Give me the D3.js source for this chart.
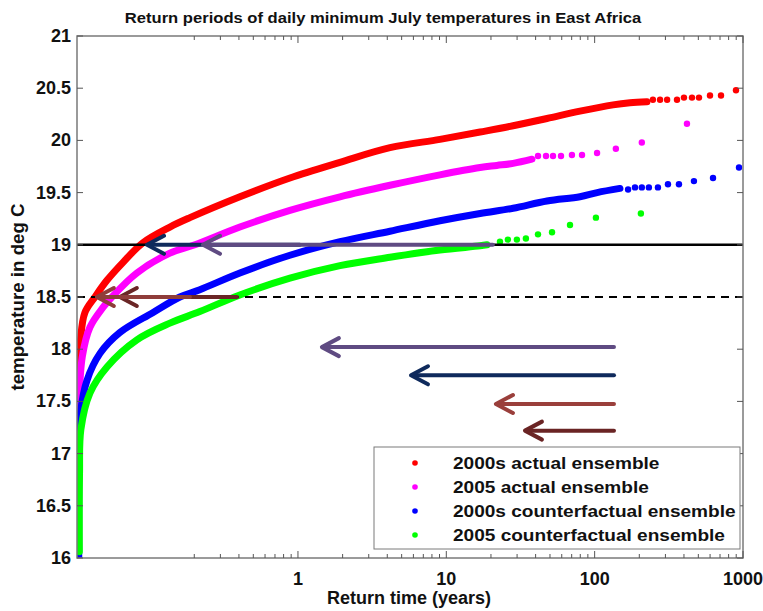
<!DOCTYPE html>
<html>
<head>
<meta charset="utf-8">
<script src="https://cdn.jsdelivr.net/npm/d3@7"></script>
<style>
body { margin: 0; background: #fff; }
text { font-family: "Liberation Sans", Arial, sans-serif; font-weight: bold; fill: #111; }
</style>
</head>
<body>
<div id="chart"></div>
<script>
// return time (years), temperature (deg C)
const red_dense = [[0.0331,17.58],[0.0334,17.77],[0.0342,18.09],[0.0366,18.35],[0.0428,18.50],[0.0516,18.66],[0.066,18.83],[0.0902,19.02],[0.137,19.17],[0.187,19.26],[0.406,19.46],[0.883,19.64],[1.92,19.79],[4.17,19.93],[9.06,20.01],[16.9,20.08],[28.2,20.14],[47.7,20.21],[79.6,20.28],[133,20.34],[173,20.36],[225,20.37]];
const red_tail = [[247,20.39],[276,20.39],[308,20.39],[359,20.39],[400,20.41],[453,20.41],[505,20.41],[599,20.43],[711,20.43],[897,20.48]];

const magenta_dense = [[0.0334,16.97],[0.0335,17.51],[0.0352,17.93],[0.0396,18.21],[0.0485,18.40],[0.0557,18.50],[0.0821,18.73],[0.137,18.92],[0.202,19.00],[0.406,19.17],[0.883,19.33],[1.92,19.46],[4.17,19.57],[9.06,19.67],[16.9,19.74],[21.9,19.76],[28.2,19.78],[37.8,19.82]];
const magenta_tail = [[41.5,19.85],[47.0,19.85],[52.4,19.85],[59.3,19.85],[70.3,19.86],[82.2,19.86],[103.8,19.88],[139,19.92],[208,19.98],[419,20.16]];

const blue_dense = [[0.0333,16.00],[0.0334,16.94],[0.0342,17.39],[0.0378,17.70],[0.0463,17.96],[0.063,18.16],[0.105,18.35],[0.160,18.50],[0.218,18.57],[0.406,18.73],[0.883,18.90],[1.92,19.03],[4.17,19.13],[9.06,19.23],[16.9,19.30],[28.2,19.35],[47.7,19.42],[79.6,19.46],[104,19.50],[148,19.54]];
const blue_tail = [[168,19.53],[187,19.55],[208,19.55],[232,19.55],[267,19.55],[312,19.58],[370,19.58],[467,19.61],[628,19.64],[940,19.74]];

const green_dense = [[0.0336,16.06],[0.0337,16.81],[0.0344,17.23],[0.0396,17.58],[0.0516,17.83],[0.0821,18.09],[0.137,18.25],[0.218,18.36],[0.406,18.52],[0.883,18.68],[1.92,18.80],[4.17,18.88],[9.06,18.95],[16.9,18.99],[18.8,19.00]];
const green_tail = [[23.0,19.03],[26.0,19.05],[29.9,19.05],[34.4,19.06],[41.5,19.10],[51.6,19.12],[68.2,19.19],[102,19.26],[205,19.30]];

const series_names = ["2000s actual ensemble", "2005 actual ensemble", "2000s counterfactual ensemble", "2005 counterfactual ensemble"];
const series_colors = ["#ff0000", "#ff00ff", "#0000ff", "#00ff00"];

const x_major = [1, 10, 100, 1000];
const x_minor = [0.2,0.3,0.4,0.5,0.6,0.7,0.8,0.9,2,3,4,5,6,7,8,9,20,30,40,50,60,70,80,90,200,300,400,500,600,700,800,900];
const y_ticks = [16,16.5,17,17.5,18,18.5,19,19.5,20,20.5,21];

const thresholds = [19, 18.5];
// arrows along threshold lines: [temp, from rt, to rt]
const line_arrows = [[18.5,0.388,0.063],[18.5,0.187,0.0441],[19,1.03,0.096],[19,20.6,0.229]];
const line_arrow_colors = ["#6a2626", "#8f3d3a", "#0f2a5c", "#5f4b82"];
// key arrows at the right
const key_arrows = [[18.02,135,1.45],[17.75,135,5.78],[17.475,135,21.6],[17.22,135,33.9]];
const key_arrow_colors = ["#5f4b82", "#0f2a5c", "#9a3f3b", "#6a2424"];

const W = 763, H = 611;
const margin = { top: 36, right: 20, bottom: 53, left: 77 };
const width = W - margin.left - margin.right;
const height = H - margin.top - margin.bottom;

const svg = d3.select("#chart").append("svg")
  .attr("width", W)
  .attr("height", H);

let x_scale = d3.scaleLog()
  .domain([0.0324, 1000])
  .range([0, width]);
let y_scale = d3.scaleLinear()
  .domain([16, 21])
  .range([height, 0]);

let g = svg.append("g")
  .attr("transform", "translate(" + margin.left + "," + margin.top + ")");

g.append("clipPath").attr("id", "clip")
  .append("rect").attr("x", 0).attr("y", -4).attr("width", width).attr("height", height + 4);

const plot = g.append("g").attr("clip-path", "url(#clip)");

const line = d3.line()
  .x((d) => x_scale(d[0]))
  .y((d) => y_scale(d[1]))
  .curve(d3.curveCatmullRom.alpha(0.5));

const dense = [red_dense, magenta_dense, blue_dense, green_dense];
const tails = [red_tail, magenta_tail, blue_tail, green_tail];

dense.forEach((pts, i) => {
  plot.append("path")
    .datum(pts)
    .attr("d", line)
    .style("fill", "none")
    .style("stroke", series_colors[i])
    .style("stroke-width", 7)
    .style("stroke-linecap", "round")
    .style("stroke-linejoin", "round");
  plot.selectAll(null)
    .data(tails[i])
    .enter().append("circle")
    .attr("cx", (d) => x_scale(d[0]))
    .attr("cy", (d) => y_scale(d[1]))
    .attr("r", 3.2)
    .style("fill", series_colors[i]);
});

// threshold lines
g.append("line")
  .attr("x1", 0).attr("x2", width)
  .attr("y1", y_scale(thresholds[0])).attr("y2", y_scale(thresholds[0]))
  .style("stroke", "#000").style("stroke-width", 2.5);
g.append("line")
  .attr("x1", 0).attr("x2", width)
  .attr("y1", y_scale(thresholds[1])).attr("y2", y_scale(thresholds[1]))
  .style("stroke", "#000").style("stroke-width", 2)
  .style("stroke-dasharray", "8,6");

const draw_arrow = (a, color) => {
  const y = y_scale(a[0]);
  const x0 = x_scale(a[1]);
  const x1 = x_scale(a[2]);
  const ag = g.append("g")
    .style("stroke", color).style("stroke-width", 4)
    .style("stroke-linecap", "round").style("fill", "none");
  ag.append("line").attr("x1", x0).attr("x2", x1 + 2).attr("y1", y).attr("y2", y);
  ag.append("path")
    .attr("d", "M" + (x1 + 17) + "," + (y - 9) + "L" + x1 + "," + y + "L" + (x1 + 17) + "," + (y + 9))
    .style("stroke-linejoin", "round");
};
line_arrows.forEach((a, i) => draw_arrow(a, line_arrow_colors[i]));
key_arrows.forEach((a, i) => draw_arrow(a, key_arrow_colors[i]));

// frame and ticks
const axis_col = "#7a7a7a";
g.append("rect")
  .attr("x", 0).attr("y", 0).attr("width", width).attr("height", height)
  .style("fill", "none").style("stroke", axis_col).style("stroke-width", 1.5);

const ticks = g.append("g").style("stroke", "#555").style("stroke-width", 1);
x_minor.forEach((v) => {
  const x = x_scale(v);
  ticks.append("line").attr("x1", x).attr("x2", x).attr("y1", height).attr("y2", height - 4);
  ticks.append("line").attr("x1", x).attr("x2", x).attr("y1", 0).attr("y2", 4);
});
x_major.forEach((v) => {
  const x = x_scale(v);
  ticks.append("line").attr("x1", x).attr("x2", x).attr("y1", height).attr("y2", height - 7);
  ticks.append("line").attr("x1", x).attr("x2", x).attr("y1", 0).attr("y2", 7);
});
y_ticks.forEach((v) => {
  const y = y_scale(v);
  ticks.append("line").attr("x1", 0).attr("x2", 6).attr("y1", y).attr("y2", y);
  ticks.append("line").attr("x1", width).attr("x2", width - 6).attr("y1", y).attr("y2", y);
});

// the picture's lettering is a little wider than Liberation Sans
const stretch = (sel, f) => {
  sel.each(function () {
    const w = this.getComputedTextLength();
    d3.select(this).attr("textLength", w * f).attr("lengthAdjust", "spacingAndGlyphs");
  });
};

g.selectAll(".ylab")
  .data(y_ticks)
  .enter().append("text")
  .attr("x", -6)
  .attr("y", (d) => y_scale(d) + 6)
  .attr("text-anchor", "end")
  .style("font-size", "18px")
  .text((d) => d);

g.selectAll(".xlab")
  .data(x_major)
  .enter().append("text")
  .attr("x", (d) => x_scale(d))
  .attr("y", height + 27)
  .attr("text-anchor", "middle")
  .style("font-size", "18px")
  .text((d) => d);

svg.append("text")
  .attr("x", 409)
  .attr("y", 604)
  .attr("text-anchor", "middle")
  .style("font-size", "18px")
  .text("Return time (years)");

svg.append("text")
  .attr("transform", "translate(24," + (margin.top + height / 2) + ") rotate(-90)")
  .attr("text-anchor", "middle")
  .style("font-size", "18px")
  .text("temperature in deg C")
  .call(stretch, 1.04);

svg.append("text")
  .attr("x", 383)
  .attr("y", 23)
  .attr("text-anchor", "middle")
  .style("font-size", "15.5px")
  .text("Return periods of daily minimum July temperatures in East Africa")
  .call(stretch, 1.07);

// legend
const lg = svg.append("g").attr("transform", "translate(374,447)");
lg.append("rect")
  .attr("width", 366).attr("height", 102)
  .style("fill", "#fff").style("stroke", axis_col).style("stroke-width", 1);
series_names.forEach((name, i) => {
  lg.append("circle")
    .attr("cx", 41).attr("cy", 16 + i * 24)
    .attr("r", 2.8)
    .style("fill", series_colors[i]);
  lg.append("text")
    .attr("x", 79).attr("y", 22 + i * 24)
    .style("font-size", "16px")
    .text(name)
    .call(stretch, 1.19);
});
</script>
</body>
</html>
